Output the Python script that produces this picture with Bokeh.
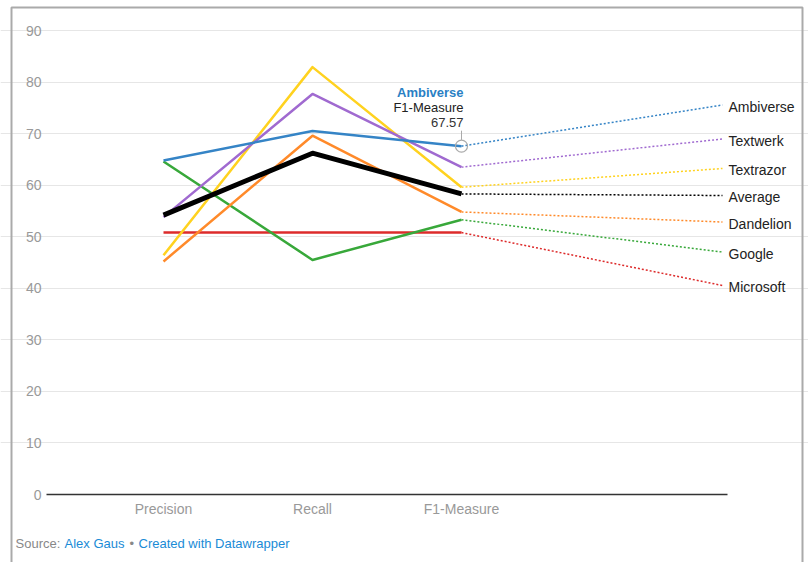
from bokeh.plotting import figure
from bokeh.models import Label, FixedTicker, BoxAnnotation, Range1d
from bokeh.embed import file_html
from bokeh.resources import INLINE

# ---------------- data ----------------
categories = ["Precision", "Recall", "F1-Measure"]
series_names = ["Ambiverse", "Textwerk", "Textrazor", "Average", "Dandelion", "Google", "Microsoft"]
ambiverse = [64.8, 70.5, 67.57]
textwerk = [53.8, 77.7, 63.5]
textrazor = [46.4, 82.9, 59.6]
average = [54.2, 66.2, 58.3]
dandelion = [45.2, 69.6, 54.8]
google = [64.6, 45.5, 53.3]
microsoft = [50.8, 50.8, 50.8]
y_ticks = [0, 10, 20, 30, 40, 50, 60, 70, 80, 90]

# ---------------- layout / style ----------------
W, H = 808, 562
PL, PR, PT, PB = 46, 727, 30, 494          # plot area edges in px
CAT0_PX, CAT_STEP = 163, 149               # category 0 position and spacing (px)
YPX = (PB - PT) / 90.0                     # px per unit

def px_to_x(px):
    return (px - CAT0_PX) / CAT_STEP

def py_to_y(py):
    return (PB - py) / YPX

colors = {
    "Ambiverse": "#3584c6",
    "Textwerk": "#a06ad0",
    "Textrazor": "#ffd21f",
    "Average": "#000000",
    "Dandelion": "#ff8a2a",
    "Google": "#38a83a",
    "Microsoft": "#dd2b2b",
}
values = {
    "Ambiverse": ambiverse, "Textwerk": textwerk, "Textrazor": textrazor,
    "Average": average, "Dandelion": dandelion, "Google": google, "Microsoft": microsoft,
}
# label rows on the right (layout positions, px)
label_py = {"Ambiverse": 104.5, "Textwerk": 138.5, "Textrazor": 168.0, "Average": 195.0,
            "Dandelion": 221.5, "Google": 251.5, "Microsoft": 285.0}
FONT = "Liberation Sans"

p = figure(width=W, height=H, output_backend="svg", toolbar_location=None,
           x_range=Range1d(px_to_x(0), px_to_x(W)), y_range=Range1d(py_to_y(H), py_to_y(0)),
           min_border=0)
p.outline_line_color = None
p.background_fill_color = "white"
p.border_fill_color = "white"

# axes (fixed inside the full-canvas frame)
p.yaxis.fixed_location = px_to_x(PL)
p.yaxis.ticker = FixedTicker(ticks=y_ticks)
p.yaxis.bounds = (0, 90)
p.yaxis.axis_line_color = None
p.yaxis.major_tick_line_color = None
p.yaxis.minor_tick_line_color = None
p.yaxis.major_tick_in = 0
p.yaxis.major_tick_out = 0
p.yaxis.major_label_standoff = 5
p.yaxis.major_label_text_font = FONT
p.yaxis.major_label_text_font_size = "14px"
p.yaxis.major_label_text_color = "#999999"

p.xaxis.fixed_location = 0
p.xaxis.ticker = FixedTicker(ticks=list(range(len(categories))))
p.xaxis.major_label_overrides = {i: c for i, c in enumerate(categories)}
p.xaxis.bounds = (px_to_x(PL), px_to_x(PR))
p.xaxis.axis_line_color = "#333333"
p.xaxis.axis_line_width = 1.5
p.xaxis.major_tick_line_color = None
p.xaxis.minor_tick_line_color = None
p.xaxis.major_tick_in = 0
p.xaxis.major_tick_out = 0
p.xaxis.major_label_standoff = 6
p.xaxis.major_label_text_font = FONT
p.xaxis.major_label_text_font_size = "14px"
p.xaxis.major_label_text_color = "#999999"

p.xgrid.visible = False
p.ygrid.ticker = FixedTicker(ticks=y_ticks[1:])
p.ygrid.bounds = (px_to_x(PL), px_to_x(PR))
p.ygrid.grid_line_color = "#e6e6e6"
p.ygrid.grid_line_width = 1

xs = list(range(len(categories)))
conn_x_end = px_to_x(722)
label_x = px_to_x(728)

draw_order = ["Microsoft", "Google", "Dandelion", "Textrazor", "Textwerk", "Ambiverse", "Average"]
for name in draw_order:
    vals = values[name]
    col = colors[name]
    lw = 5 if name == "Average" else 2.5
    p.line(xs, vals, line_color=col, line_width=lw, line_join="round")
    # dotted connector from last point to label
    p.line([xs[-1], conn_x_end], [vals[-1], py_to_y(label_py[name])],
           line_color=col, line_width=1.5, line_dash="2 2")

for name in series_names:
    p.add_layout(Label(x=label_x, y=py_to_y(label_py[name] + 1.5), text=name,
                       text_font=FONT, text_font_size="14px", text_color="#222222",
                       text_baseline="middle", text_align="left"))

# highlighted point (Ambiverse F1-Measure)
hx, hy = xs[-1], ambiverse[-1]
p.scatter([hx], [hy], size=12, fill_color=None, line_color="#aaaaaa", line_width=1.2)
p.segment(x0=[hx], y0=[hy + 1.2], x1=[hx], y1=[hy + 3.0], line_color="#aaaaaa", line_width=1)
tip_lines = [("Ambiverse", "#2a7fc4", "bold", 92), ("F1-Measure", "#222222", "normal", 106.5),
             (f"{ambiverse[-1]:.2f}", "#333333", "normal", 122)]
for txt, col, style, py in tip_lines:
    p.add_layout(Label(x=hx, y=py_to_y(py), x_offset=2, text=txt, text_font=FONT,
                       text_font_size="13px", text_color=col, text_font_style=style,
                       text_align="right", text_baseline="middle"))

# source line
src_parts = [("Source: ", "#888888", 15), ("Alex Gaus", "#1a8bd6", 64), ("•", "#888888", 129),
             ("Created with Datawrapper", "#1a8bd6", 138)]
for txt, col, px in src_parts:
    p.add_layout(Label(x=px_to_x(px), y=py_to_y(543), text=txt, text_font=FONT,
                       text_font_size="13px", text_color=col, text_baseline="middle",
                       text_align="left"))

# outer frame border
p.add_layout(BoxAnnotation(left=px_to_x(11), right=px_to_x(802), top=py_to_y(7),
                           bottom=py_to_y(H + 20),
                           fill_alpha=0, line_color="#aaaaaa", line_width=2, line_alpha=1))

open("out.html", "w").write(file_html(p, INLINE))
